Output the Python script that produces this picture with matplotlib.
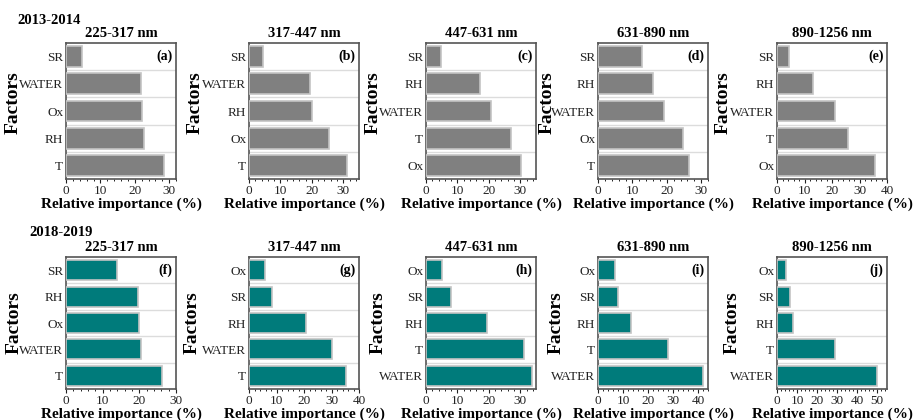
import numpy as np
import matplotlib
matplotlib.use("Agg")
import matplotlib.pyplot as plt
from matplotlib.ticker import MultipleLocator, AutoMinorLocator

plt.rcParams['font.family'] = ['Liberation Serif', 'DejaVu Serif']

# ---- data (top-to-bottom order as shown in each panel) ----
bands = ['225-317 nm', '317-447 nm', '447-631 nm', '631-890 nm', '890-1256 nm']

factors_2013 = [
    ['SR', 'WATER', 'Ox', 'RH', 'T'],
    ['SR', 'WATER', 'RH', 'Ox', 'T'],
    ['SR', 'RH', 'WATER', 'T', 'Ox'],
    ['SR', 'RH', 'WATER', 'Ox', 'T'],
    ['SR', 'RH', 'WATER', 'T', 'Ox'],
]
values_2013 = [
    [4.7, 21.8, 22.2, 22.6, 28.5],
    [4.4, 19.5, 20.2, 25.6, 31.3],
    [4.7, 17.2, 20.7, 27.1, 30.2],
    [12.8, 16.0, 19.2, 24.6, 26.6],
    [4.2, 13.2, 21.0, 25.7, 35.8],
]
xmax_2013 = [32, 35, 35, 32, 40]

factors_2018 = [
    ['SR', 'RH', 'Ox', 'WATER', 'T'],
    ['Ox', 'SR', 'RH', 'WATER', 'T'],
    ['Ox', 'SR', 'RH', 'T', 'WATER'],
    ['Ox', 'SR', 'RH', 'T', 'WATER'],
    ['Ox', 'SR', 'RH', 'T', 'WATER'],
]
values_2018 = [
    [13.9, 19.5, 20.0, 20.5, 26.2],
    [5.7, 8.5, 20.6, 30.1, 35.3],
    [5.1, 8.0, 19.5, 31.3, 33.7],
    [6.6, 8.1, 13.2, 27.9, 41.8],
    [4.5, 6.3, 8.0, 29.2, 50.0],
]
xmax_2018 = [30, 40, 35, 44, 55]

panel_tags = ['(a)', '(b)', '(c)', '(d)', '(e)', '(f)', '(g)', '(h)', '(i)', '(j)']

# ---- layout ----
W, H = 916, 420
fig = plt.figure(figsize=(W / 100, H / 100), dpi=100)

lefts = [66, 249, 426, 598, 777]
ax_w = 110
rows = [
    dict(top=43, bottom=179, factors=factors_2013, values=values_2013,
         xmax=xmax_2013, color='#808080', label='2013-2014', label_xy=(17, 20),
         ylab_off=[-44, -45, -44, -42, -45], ylab_y=0.56),
    dict(top=257, bottom=389, factors=factors_2018, values=values_2018,
         xmax=xmax_2018, color='#007b7b', label='2018-2019', label_xy=(29, 232),
         ylab_off=[-43, -48, -39, -33, -36], ylab_y=0.5),
]

k = 0
for row in rows:
    fig.text(row['label_xy'][0] / W, 1 - row['label_xy'][1] / H, row['label'],
             fontsize=10.5, fontweight='bold', va='center', ha='left')
    for i in range(5):
        ax = fig.add_axes([lefts[i] / W, 1 - row['bottom'] / H,
                           ax_w / W, (row['bottom'] - row['top']) / H])
        labels = row['factors'][i]
        vals = row['values'][i]
        y = np.arange(len(labels))
        ax.barh(y, vals, height=0.76, color=row['color'], edgecolor='#c4c4c4',
                linewidth=1.2, zorder=3)
        ax.set_yticks(y)
        ax.set_yticklabels(labels)
        ax.set_yticks(np.arange(len(labels) - 1) + 0.5, minor=True)
        ax.grid(axis='y', which='minor', color='#dcdcdc', linewidth=1.0, zorder=0)
        ax.set_ylim(len(labels) - 0.5, -0.5)
        ax.set_xlim(0, row['xmax'][i])
        ax.xaxis.set_major_locator(MultipleLocator(10))
        ax.xaxis.set_minor_locator(AutoMinorLocator(5))
        ax.tick_params(axis='x', which='major', length=3, width=0.8, pad=1,
                       labelsize=9.5, colors='#222222')
        ax.tick_params(axis='x', which='minor', length=1.5, width=0.6)
        ax.tick_params(axis='y', which='both', length=0, pad=2, labelsize=9.5,
                       colors='#222222')
        for s in ax.spines.values():
            s.set_color('#555555')
            s.set_linewidth(1.2)
        ax.set_title(bands[i], fontsize=10.5, fontweight='bold', pad=4)
        ax.set_xlabel('Relative importance (%)', fontsize=11, fontweight='bold',
                      labelpad=1)
        ax.set_ylabel('Factors', fontsize=14, fontweight='bold')
        ax.yaxis.set_label_coords(row['ylab_off'][i] / ax_w, row['ylab_y'])
        ax.text(0.97, 0.95, panel_tags[k], transform=ax.transAxes, ha='right',
                va='top', fontsize=10, fontweight='bold')
        k += 1

fig.savefig('out.png', dpi=100)
